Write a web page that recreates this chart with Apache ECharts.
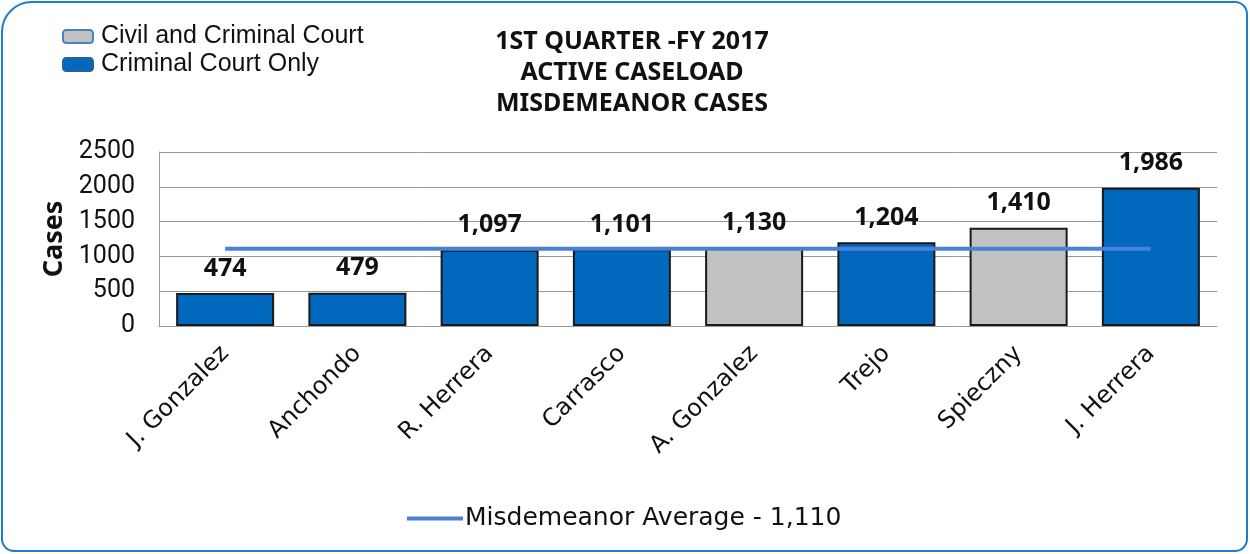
<!DOCTYPE html>
<html>
<head>
<meta charset="utf-8">
<title>Misdemeanor caseload</title>
<script src="https://cdn.jsdelivr.net/npm/echarts@6/dist/echarts.min.js"></script>
<style>
  html, body { margin: 0; padding: 0; background: #fff; }
  #main { width: 1250px; height: 554px; }
</style>
</head>
<body>
<div id="main"></div>
<script>
// judges on the x axis
var judges = ['J. Gonzalez', 'Anchondo', 'R. Herrera', 'Carrasco', 'A. Gonzalez', 'Trejo', 'Spieczny', 'J. Herrera'];
// active cases, split by court type ('-' = not in this group)
var criminalOnly = [474, 479, 1097, 1101, '-', 1204, '-', 1986];
var civilCriminal = ['-', '-', '-', '-', 1130, '-', 1410, '-'];
// misdemeanor average, same for every judge
var average = [1110, 1110, 1110, 1110, 1110, 1110, 1110, 1110];
var yTicks = [0, 500, 1000, 1500, 2000, 2500];

var myChart = echarts.init(document.getElementById('main'));

function fmt(p) {
  return Number(p.value).toLocaleString('en-US');
}

var barLabel = {
  show: true,
  position: 'top',
  distance: 12,
  fontFamily: 'Noto Sans',
  fontWeight: 'bold',
  fontSize: 25,
  color: '#111',
  formatter: fmt
};

var option = {
  backgroundColor: '#fff',
  animation: false,
  graphic: [{
    type: 'rect',
    shape: { x: 2, y: 2, width: 1245, height: 549, r: [30, 12, 12, 12] },
    style: { fill: 'none', stroke: '#1a7fcf', lineWidth: 2 },
    silent: true
  }],
  title: {
    text: '1ST QUARTER -FY 2017\nACTIVE CASELOAD\nMISDEMEANOR CASES',
    left: 627,
    textAlign: 'center',
    top: 21,
    textStyle: {
      fontFamily: 'Noto Sans',
      fontWeight: 'bold',
      fontSize: 25,
      lineHeight: 31,
      color: '#111'
    }
  },
  legend: [{
    data: [
      { name: 'Civil and Criminal Court', itemStyle: { borderColor: '#4a80c8', borderWidth: 2 } },
      { name: 'Criminal Court Only', itemStyle: { borderColor: '#2a5f9e', borderWidth: 2 } }
    ],
    orient: 'vertical',
    left: 57,
    top: 19,
    icon: 'roundRect',
    itemWidth: 30,
    itemHeight: 13,
    itemGap: 3,
    textStyle: { fontFamily: 'Liberation Sans', fontSize: 25, color: '#111', padding: [0, 0, 0, 3] }
  }, {
    data: [{ name: 'Misdemeanor Average - 1,110', icon: 'rect' }],
    left: 402,
    top: 501,
    itemWidth: 56,
    itemHeight: 4,
    itemGap: 4,
    textStyle: { fontFamily: 'DejaVu Sans', fontSize: 25, color: '#111', padding: [0, 0, 0, -3] }
  }],
  grid: { left: 159, right: 33, top: 152, bottom: 228 },
  xAxis: {
    type: 'category',
    data: judges,
    axisLine: { show: true, lineStyle: { color: '#999' } },
    axisTick: { show: false },
    axisLabel: {
      interval: 0,
      rotate: 45,
      margin: 24,
      fontFamily: 'DejaVu Sans',
      fontSize: 24,
      color: '#111'
    }
  },
  yAxis: {
    type: 'value',
    min: 0,
    max: 2500,
    interval: 500,
    name: 'Cases',
    nameLocation: 'middle',
    nameGap: 90,
    nameTextStyle: { fontFamily: 'Noto Sans', fontWeight: 'bold', fontSize: 27, color: '#111' },
    axisLine: { show: true, lineStyle: { color: '#999' } },
    axisTick: { show: false },
    axisLabel: {
      margin: 24,
      fontFamily: 'Roboto',
      fontSize: 25,
      color: '#111',
      formatter: function (v) { return yTicks.indexOf(v) >= 0 ? String(v) : ''; }
    },
    splitLine: { lineStyle: { color: '#999', width: 1 } }
  },
  series: [{
    name: 'Civil and Criminal Court',
    type: 'bar',
    stack: 'cases',
    barWidth: 98,
    data: civilCriminal,
    itemStyle: { color: '#c2c2c2', borderColor: '#1a1a1a', borderWidth: 2 },
    label: barLabel
  }, {
    name: 'Criminal Court Only',
    type: 'bar',
    stack: 'cases',
    barWidth: 98,
    data: criminalOnly,
    itemStyle: { color: '#0068bd', borderColor: '#1a1a1a', borderWidth: 2 },
    label: barLabel
  }, {
    name: 'Misdemeanor Average - 1,110',
    type: 'line',
    data: average,
    symbol: 'none',
    itemStyle: { color: '#4a80d8' },
    lineStyle: { color: '#4a80d8', width: 4 },
    z: 5
  }]
};

myChart.setOption(option);
</script>
</body>
</html>
